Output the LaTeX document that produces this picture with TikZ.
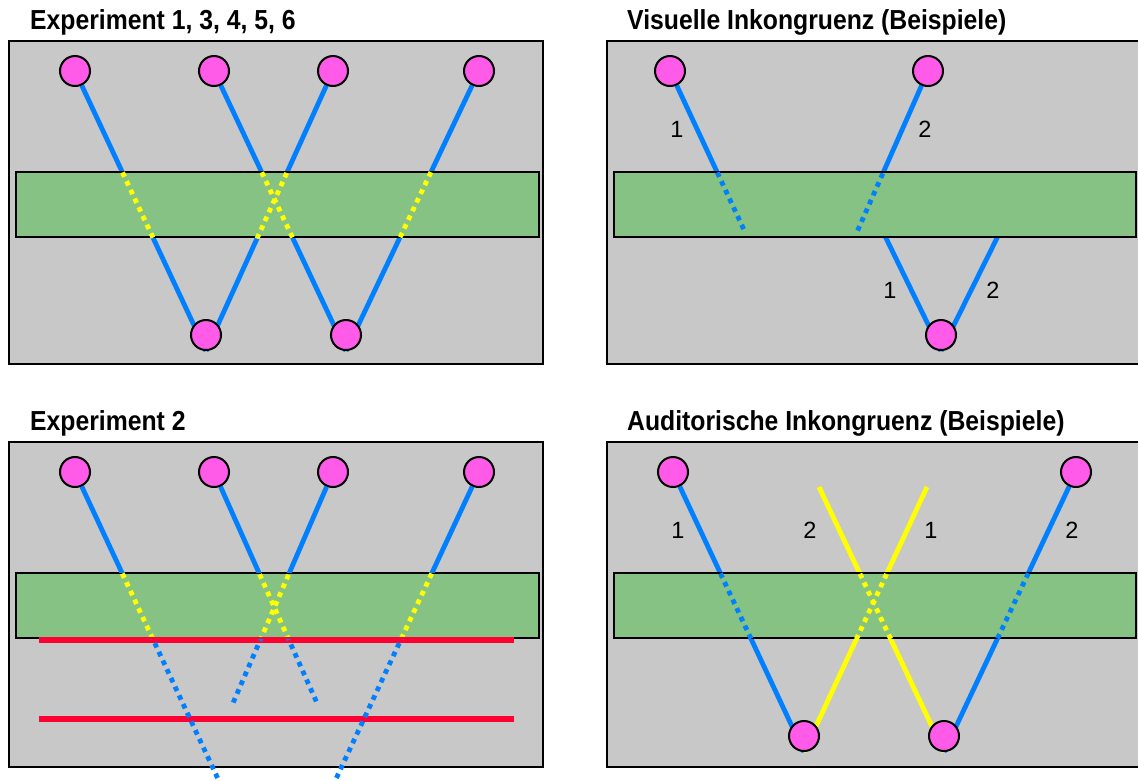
\documentclass[tikz,border=0pt]{standalone}
\usepackage{fontspec}
\setmainfont{Liberation Sans}
\newfontfamily\titlefont[FakeStretch=0.9]{Liberation Sans}
\usepackage{tikz}
\usepackage{xcolor}
\definecolor{panelgray}{RGB}{200,200,200}
\definecolor{bandgreen}{RGB}{134,194,131}
\definecolor{ballpink}{RGB}{255,90,232}
\definecolor{rayblue}{RGB}{0,128,255}
\definecolor{rayyellow}{RGB}{255,255,0}
\definecolor{barred}{RGB}{255,0,51}
\pgfdeclarelayer{back}
\pgfsetlayers{back,main}
\tikzset{
    panel/.style = {draw=black, fill=panelgray, line width=2pt},
    band/.style = {draw=black, fill=bandgreen, line width=2pt, rectangle, minimum width=522pt, minimum height=65pt, anchor=north west, inner sep=0pt},
    ball/.style = {circle, draw=black, fill=ballpink, line width=2pt, minimum size=30pt, inner sep=0pt},
    ray/.style = {draw=rayblue, line width=4.8pt},
    ray-yellow/.style = {draw=rayyellow, line width=4.8pt},
    ray-dots/.style = {line width=4.8pt, dash pattern=on 4.8pt off 4.8pt},
    bar/.style = {draw=barred, line width=5.5pt},
    panel-title/.style = {anchor=base west, inner sep=0pt, font=\titlefont\fontsize{27.5}{32}\selectfont\bfseries},
    ray-label/.style = {inner sep=0pt, font=\fontsize{23.5}{28}\selectfont},
}

\begin{document}
\begin{tikzpicture}[x=1pt, y=-1pt]
\useasboundingbox (0,0) rectangle (1138,780);

% Experiment 1, 3, 4, 5, 6
\node[panel-title] (title1) at (30,29.5) {Experiment 1, 3, 4, 5, 6};
\foreach \x/\n in {75/1, 214/2, 333/3, 479/4}
    \node[ball] (a\n) at (\x,71) {};
\node[ball] (a5) at (206,335) {};
\node[ball] (a6) at (346,335) {};
\begin{pgfonlayer}{back}
\draw[panel] (9,41) rectangle (543,364);
\draw[ray] (a1) -- (a5.south);
\draw[ray] (a3) -- (a5.south);
\draw[ray] (a2) -- (a6.south);
\draw[ray] (a4) -- (a6.south);
\node[band, minimum width=523pt] (g1) at (15,171) {};
\begin{scope}
    \clip (g1.north west) rectangle (g1.south east);
    \draw[ray-dots, rayyellow] (a1) -- (a5.south);
    \draw[ray-dots, rayyellow] (a3) -- (a5.south);
    \draw[ray-dots, rayyellow] (a2) -- (a6.south);
    \draw[ray-dots, rayyellow] (a4) -- (a6.south);
\end{scope}
\end{pgfonlayer}

% Experiment 2
\node[panel-title] (title2) at (30,430.5) {Experiment 2};
\foreach \x/\n in {75/1, 214/2, 333/3, 479/4}
    \node[ball] (b\n) at (\x,472) {};
\coordinate (e1) at (219,781);
\coordinate (e2) at (317,703);
\coordinate (e3) at (233,703);
\coordinate (e4) at (335,781);
\begin{pgfonlayer}{back}
\draw[panel] (9,442) rectangle (543,767);
\node[band, minimum width=523pt] (g2) at (15,572) {};
\begin{scope}
    \clip (9,442) rectangle (g2.north east);
    \foreach \n in {1,...,4}
        \draw[ray] (b\n) -- (e\n);
\end{scope}
\begin{scope}
    \clip (g2.north west) rectangle (g2.south east);
    \foreach \n in {1,...,4}
        \draw[ray-dots, rayyellow] (b\n) -- (e\n);
\end{scope}
\draw[bar] (39,640) -- (514,640);
\draw[bar] (39,719) -- (514,719);
\begin{scope}
    \clip (g2.south west) rectangle (545,790);
    \foreach \n in {1,...,4}
        \draw[ray-dots, rayblue] (b\n) -- (e\n);
\end{scope}
\end{pgfonlayer}

% Visuelle Inkongruenz
\node[panel-title] (title3) at (627,29.5) {Visuelle Inkongruenz (Beispiele)};
\node[ball] (c1) at (670,71) {};
\node[ball] (c2) at (928,71) {};
\node[ball] (c3) at (941,335) {};
\coordinate (f1) at (745,232);
\coordinate (f2) at (857,232);
\coordinate (f3) at (885,236);
\coordinate (f4) at (998,236);
\begin{pgfonlayer}{back}
\draw[panel] (607,41) rectangle (1141,364);
\draw[ray] (c1) -- (f1);
\draw[ray] (c2) -- (f2);
\draw[ray] (c3.south) -- (f3);
\draw[ray] (c3.south) -- (f4);
\node[band] (g3) at (613,171) {};
\begin{scope}
    \clip (g3.north west) rectangle (g3.south east);
    \draw[ray-dots, rayblue] (c1) -- (f1);
    \draw[ray-dots, rayblue] (c2) -- (f2);
\end{scope}
\end{pgfonlayer}
\node[ray-label] (l1) at (677,129) {1};
\node[ray-label] (l2) at (925,129) {2};
\node[ray-label] (l3) at (890,290) {1};
\node[ray-label] (l4) at (993,290) {2};

% Auditorische Inkongruenz
\node[panel-title] (title4) at (627,430.5) {Auditorische Inkongruenz (Beispiele)};
\node[ball] (d1) at (673,472) {};
\node[ball] (d2) at (1076,472) {};
\node[ball] (d3) at (804,736) {};
\node[ball] (d4) at (944,736) {};
\coordinate (h1) at (819,487);
\coordinate (h2) at (927,487);
\begin{pgfonlayer}{back}
\draw[panel] (607,442) rectangle (1141,767);
\draw[ray] (d1) -- (d3.south);
\draw[ray] (d2) -- (d4.south);
\draw[ray-yellow] (h1) -- (d4.south);
\draw[ray-yellow] (h2) -- (d3.south);
\node[band] (g4) at (613,572) {};
\begin{scope}
    \clip (g4.north west) rectangle (g4.south east);
    \draw[ray-dots, rayblue] (d1) -- (d3.south);
    \draw[ray-dots, rayblue] (d2) -- (d4.south);
    \draw[ray-dots, rayyellow] (h1) -- (d4.south);
    \draw[ray-dots, rayyellow] (h2) -- (d3.south);
\end{scope}
\end{pgfonlayer}
\node[ray-label] (m1) at (678,530) {1};
\node[ray-label] (m2) at (810,530) {2};
\node[ray-label] (m3) at (931,530) {1};
\node[ray-label] (m4) at (1072,530) {2};
\end{tikzpicture}
\end{document}
